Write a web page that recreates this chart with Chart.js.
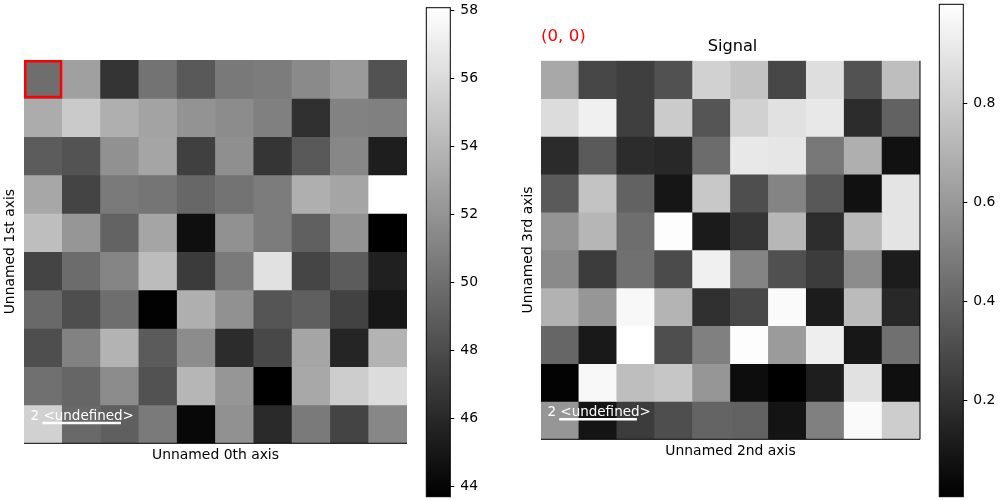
<!DOCTYPE html>
<html>
<head>
<meta charset="utf-8">
<script src="https://cdn.jsdelivr.net/npm/chart.js@4"></script>
<style>
  body { margin: 0; background: #fff; }
  canvas { position: absolute; top: 0; }
</style>
</head>
<body>
<canvas id="navHeat" width="420" height="500" style="left:0"></canvas>
<canvas id="navBar" width="70" height="500" style="left:420px"></canvas>
<canvas id="sigHeat" width="420" height="500" style="left:520px"></canvas>
<canvas id="sigBar" width="70" height="500" style="left:930px"></canvas>
<script>
const FONT = '"DejaVu Sans"';
const gridLabels = ['0', '1', '2', '3', '4', '5', '6', '7', '8', '9'];

// navigator image
const navRow0 = [49.9, 52.7, 46.6, 50.2, 48.7, 50.5, 50.7, 51.5, 52.4, 48.3];
const navRow1 = [53.4, 55.1, 53.55, 52.9, 52.0, 51.6, 50.9, 46.4, 51.0, 50.9];
const navRow2 = [48.9, 48.4, 51.9, 53.0, 47.3, 51.75, 46.7, 48.7, 51.3, 45.4];
const navRow3 = [53.1, 47.5, 50.6, 50.3, 49.5, 50.2, 50.7, 53.55, 53.0, 58.06];
const navRow4 = [54.4, 52.15, 49.3, 53.0, 44.55, 51.9, 50.7, 49.1, 52.0, 43.7];
const navRow5 = [47.5, 49.8, 51.2, 54.3, 47.0, 50.6, 56.4, 47.6, 48.9, 45.5];
const navRow6 = [49.6, 48.1, 49.9, 43.8, 53.55, 51.9, 48.5, 49.05, 47.4, 45.0];
const navRow7 = [48.1, 51.0, 53.8, 48.8, 51.6, 46.2, 47.75, 53.0, 45.8, 53.8];
const navRow8 = [50.0, 49.45, 51.6, 48.3, 53.95, 52.15, 43.7, 53.15, 55.25, 56.1];
const navRow9 = [55.5, 49.6, 49.05, 50.6, 44.15, 51.9, 46.05, 50.6, 47.5, 51.3];
const navRows = [navRow0, navRow1, navRow2, navRow3, navRow4, navRow5, navRow6, navRow7, navRow8, navRow9];
const navMin = 43.69;
const navMax = 58.08;
const navTicks = [44, 46, 48, 50, 52, 54, 56, 58];

// signal image
const sigRow0 = [.66, .28, .25, .32, .82, .765, .28, .87, .325, .746];
const sigRow1 = [.863, .94, .25, .796, .337, .82, .882, .91, .177, .388];
const sigRow2 = [.173, .356, .177, .162, .427, .91, .90, .473, .687, .072];
const sigRow3 = [.356, .765, .388, .092, .785, .31, .52, .349, .072, .894];
const sigRow4 = [.582, .715, .434, .991, .111, .212, .719, .181, .726, .894];
const sigRow5 = [.543, .24, .442, .298, .94, .52, .318, .24, .551, .115];
const sigRow6 = [.699, .59, .972, .707, .193, .286, .98, .115, .734, .162];
const sigRow7 = [.403, .103, .999, .31, .504, .991, .61, .933, .096, .442];
const sigRow8 = [.018, .972, .746, .777, .59, .057, .006, .123, .882, .064];
const sigRow9 = [.59, .084, .24, .31, .395, .388, .084, .504, .98, .804];
const sigRows = [sigRow0, sigRow1, sigRow2, sigRow3, sigRow4, sigRow5, sigRow6, sigRow7, sigRow8, sigRow9];
const sigMin = 0.005;
const sigMax = 0.9994;
const sigTicks = [0.2, 0.4, 0.6, 0.8];

function grey(v, min, max) {
    const g = Math.round((v - min) / (max - min) * 255);
    return 'rgb(' + g + ',' + g + ',' + g + ')';
}

// extras on top of a heat map: frame lines, scale bar, red marker and labels
const heatExtras = {
    id: 'heatExtras',
    afterDraw(chart, args, opts) {
        const { ctx, chartArea: a, scales: { x, y } } = chart;
        ctx.save();
        ctx.strokeStyle = '#000';
        ctx.lineWidth = 1;
        ctx.beginPath();
        ctx.moveTo(a.left, a.bottom);
        ctx.lineTo(a.right, a.bottom);
        if (opts.rightLine) {
            ctx.lineTo(a.right, a.top);
        }
        ctx.stroke();

        // scale bar, two cells long
        ctx.strokeStyle = '#fff';
        ctx.lineWidth = 2.6;
        ctx.beginPath();
        ctx.moveTo(x.getPixelForValue(-0.02), y.getPixelForValue(9.47));
        ctx.lineTo(x.getPixelForValue(2.03), y.getPixelForValue(9.47));
        ctx.stroke();
        ctx.fillStyle = '#fff';
        ctx.font = '13.5px ' + FONT;
        ctx.textAlign = 'left';
        ctx.textBaseline = 'middle';
        ctx.fillText('2 <undefined>', x.getPixelForValue(-0.33), y.getPixelForValue(9.29));

        if (opts.marker) {
            const w = x.getPixelForValue(1) - x.getPixelForValue(0);
            const h = y.getPixelForValue(1) - y.getPixelForValue(0);
            ctx.strokeStyle = '#f00';
            ctx.lineWidth = 2.5;
            ctx.strokeRect(x.getPixelForValue(-0.5) + 1.25, y.getPixelForValue(0) + 1.25, w - 2.5, h - 2.5);
        }
        if (opts.title) {
            ctx.fillStyle = '#000';
            ctx.font = '16.2px ' + FONT;
            ctx.textAlign = 'center';
            ctx.fillText('Signal', (a.left + a.right) / 2 + 2, a.top - 14);
            ctx.fillStyle = '#f00';
            ctx.font = '16.67px ' + FONT;
            ctx.textAlign = 'left';
            ctx.fillText('(0, 0)', a.left, a.top - 24);
        }
        ctx.restore();
    }
};

function makeHeat(id, rows, min, max, cfg) {
    // one stacked dataset per row, each cell one unit tall
    const datasets = rows.map(function (row) {
        return {
            data: row.map(function () { return 1; }),
            backgroundColor: row.map(function (v) { return grey(v, min, max); }),
            borderWidth: 0,
            barPercentage: 1,
            categoryPercentage: 1
        };
    });
    return new Chart(document.getElementById(id), {
        type: 'bar',
        data: { labels: gridLabels, datasets: datasets },
        plugins: [heatExtras],
        options: {
            responsive: false,
            animation: false,
            layout: { padding: { top: cfg.top, right: cfg.right, left: 0, bottom: 0 } },
            plugins: {
                legend: { display: false },
                tooltip: { enabled: false },
                heatExtras: { marker: cfg.marker, title: cfg.title, rightLine: cfg.rightLine }
            },
            scales: {
                x: {
                    stacked: true,
                    grid: { display: false },
                    border: { display: false },
                    ticks: { display: false },
                    title: {
                        display: true, text: cfg.xTitle, color: '#000',
                        font: { family: FONT, size: 13.9 }, padding: { top: 0, bottom: cfg.xPad }
                    },
                    afterFit(s) { s.height = 500 - cfg.bottom; }
                },
                y: {
                    stacked: true,
                    reverse: true,
                    min: 0,
                    max: 10,
                    grid: { display: false },
                    border: { display: false },
                    ticks: { display: false },
                    title: {
                        display: true, text: cfg.yTitle, color: '#000',
                        font: { family: FONT, size: 13.9 }, padding: { top: cfg.yPad, bottom: 0 }
                    },
                    afterFit(s) { s.width = cfg.left; }
                }
            }
        }
    });
}

const barFrame = {
    id: 'barFrame',
    afterDraw(chart) {
        const { ctx, chartArea: a } = chart;
        ctx.save();
        ctx.strokeStyle = '#000';
        ctx.lineWidth = 1;
        ctx.strokeRect(a.left, a.top, a.right - a.left, a.bottom - a.top);
        ctx.restore();
    }
};

function makeColorbar(id, min, max, ticks, cfg) {
    return new Chart(document.getElementById(id), {
        type: 'bar',
        data: {
            labels: [''],
            datasets: [{
                data: [[min, max]],
                barPercentage: 1,
                categoryPercentage: 1,
                borderWidth: 0,
                backgroundColor(c) {
                    const a = c.chart.chartArea;
                    if (!a) return '#000';
                    const g = c.chart.ctx.createLinearGradient(0, a.bottom, 0, a.top);
                    g.addColorStop(0, '#000');
                    g.addColorStop(1, '#fff');
                    return g;
                }
            }]
        },
        plugins: [barFrame],
        options: {
            responsive: false,
            animation: false,
            layout: { padding: { top: cfg.top, bottom: 500 - cfg.bottom, left: cfg.left, right: 0 } },
            plugins: { legend: { display: false }, tooltip: { enabled: false } },
            scales: {
                x: { display: false },
                y: {
                    position: 'right',
                    min: min,
                    max: max,
                    afterBuildTicks(s) { s.ticks = ticks.map(function (value) { return { value: value }; }); },
                    grid: { drawOnChartArea: false, drawTicks: true, tickLength: 4, tickColor: '#000', tickWidth: 1 },
                    border: { display: false },
                    ticks: {
                        color: '#000',
                        padding: 6,
                        font: { family: FONT, size: 13.9 },
                        callback(v) { return String(v); }
                    },
                    afterFit(s) {
                        s.width = 70 - cfg.left - 24;
                        // tick labels must not push the plot area in
                        s.paddingTop = 0;
                        s.paddingBottom = 0;
                    }
                }
            }
        }
    });
}

makeHeat('navHeat', navRows, navMin, navMax, {
    left: 24, right: 13, top: 60, bottom: 443.3, xPad: 36, yPad: 2,
    xTitle: 'Unnamed 0th axis', yTitle: 'Unnamed 1st axis', marker: true
});
makeHeat('sigHeat', sigRows, sigMin, sigMax, {
    left: 21, right: 20, top: 60.7, bottom: 439.3, xPad: 40, yPad: 0,
    xTitle: 'Unnamed 2nd axis', yTitle: 'Unnamed 3rd axis', title: true, rightLine: true
});
makeColorbar('navBar', navMin, navMax, navTicks, { left: 6.3, top: 7.7, bottom: 496.7 });
makeColorbar('sigBar', sigMin, sigMax, sigTicks, { left: 9.3, top: 4.3, bottom: 496.7 });
</script>
</body>
</html>
